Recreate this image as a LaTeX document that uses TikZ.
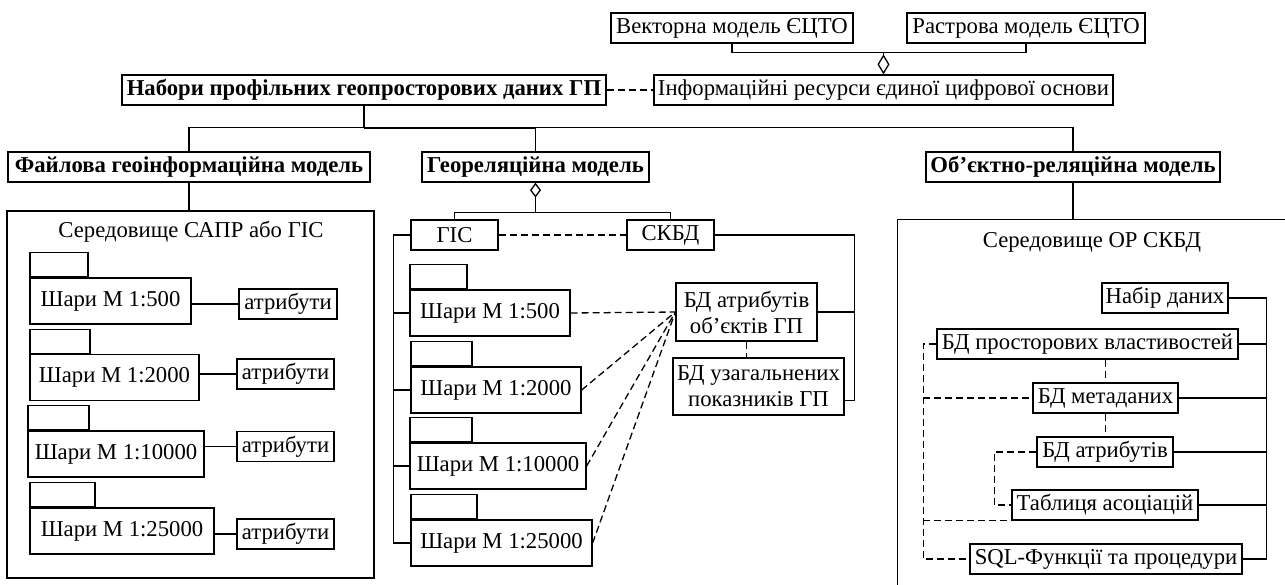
\documentclass[tikz,border=0pt]{standalone}
\usepackage{fontspec}
\setmainfont{Liberation Serif}
\usepackage{tikz}
\usetikzlibrary{positioning, arrows.meta, shapes}
\tikzstyle{unit} = [rectangle, draw=black, line width=1.3pt, inner sep=0pt, minimum height=30pt, text centered]
\tikzstyle{model} = [unit, font=\fontsize{22.7}{26}\selectfont\bfseries]
\tikzstyle{layer} = [unit, minimum height=46pt]
\tikzstyle{tab} = [rectangle, draw=black, line width=1.3pt, minimum height=24pt, inner sep=0pt, anchor=south west]
\tikzstyle{envbox} = [rectangle, draw=black, line width=1.3pt, inner sep=0pt]
\tikzstyle{link} = [line width=1.3pt]
\tikzstyle{dashlink} = [link, dash pattern=on 7pt off 4pt]

\begin{document}
\begin{tikzpicture}[x=1pt, y=-1pt, font=\fontsize{22.7}{26}\selectfont]
        \useasboundingbox (0,0) rectangle (1285,584);

        % top level
        \node (vector) [unit, minimum width=242pt] at (732,28) {Векторна модель ЄЦТО};
        \node (raster) [unit, minimum width=238pt] at (1026,28) {Растрова модель ЄЦТО};
        \node (resources) [unit, minimum width=459pt] at (883.5,90) {Інформаційні ресурси єдиної цифрової основи};
        \node (datasets) [model, minimum width=484pt] at (364,90) {Набори профільних геопросторових даних ГП};
        \node (filemodel) [model, minimum width=362pt] at (189,167) {Файлова геоінформаційна модель};
        \node (georel) [model, minimum width=227pt] at (535.5,167) {Геореляційна модель};
        \node (objrel) [model, minimum width=294pt] at (1073,167) {Об’єктно-реляційна модель};

        \draw [link, {Diamond[open, length=20pt, width=12pt]}-] (resources.north) -- ++(0,-22) -| (vector.south);
        \draw [link] (resources.north) ++(0,-22) -| (raster.south);
        \draw [dashlink] (datasets.east) -- (resources.west);
        \draw [link] (datasets.south) -- ++(0,22) coordinate (split);
        \draw [link] (split) -| (filemodel.north);
        \draw [link] (split) -| (objrel.north);
        \draw [line width=2.2pt] (split) -- (split -| georel.north);
        \draw [link] (split -| georel.north) -- (georel.north);

        % file model
        \node (cadenv) [envbox, minimum width=367pt, minimum height=367pt] at (190.5,394.5) {};
        \node (cadtitle) at (191,232) {Середовище САПР або ГІС};
        \draw [link] (filemodel.south) -- (filemodel.south |- cadenv.north);

        \node (f500) [layer, minimum width=161pt] at (110.5,301) {Шари М 1:500};
        \node [tab, minimum width=58pt] at (f500.north west) {};
        \node (f2000) [layer, minimum width=169pt] at (114.5,377.5) {Шари М 1:2000};
        \node [tab, minimum width=60pt] at (f2000.north west) {};
        \node (f10000) [layer, minimum width=176pt] at (116,454) {Шари М 1:10000};
        \node [tab, minimum width=61pt] at (f10000.north west) {};
        \node (f25000) [layer, minimum width=184pt] at (122,531) {Шари М 1:25000};
        \node [tab, minimum width=65pt] at (f25000.north west) {};

        \node (a500) [unit, minimum width=98pt] at (288,304) {атрибути};
        \node (a2000) [unit, minimum width=97pt] at (285.5,374) {атрибути};
        \node (a10000) [unit, minimum width=97pt] at (285.5,446.5) {атрибути};
        \node (a25000) [unit, minimum width=97pt] at (285.5,534) {атрибути};
        \foreach \s in {500,2000,10000,25000}
            \draw [link] (f\s.east |- a\s.west) -- (a\s.west);

        % georelational model
        \node (gis) [unit, minimum width=87pt] at (454.5,235) {ГІС};
        \node (dbms) [unit, minimum width=87pt] at (670.5,235) {СКБД};
        \draw [link, {Diamond[open, length=15pt, width=11pt]}-] (georel.south) -- ++(0,30) -| (gis.north);
        \draw [link] (georel.south) ++(0,30) -| (dbms.north);
        \draw [dashlink] (gis.east) -- (dbms.west);

        \node (g500) [layer, minimum width=160pt] at (490,313) {Шари М 1:500};
        \node [tab, minimum width=57pt] at (g500.north west) {};
        \node (g2000) [layer, minimum width=170pt] at (496,390) {Шари М 1:2000};
        \node [tab, minimum width=61pt] at (g2000.north west) {};
        \node (g10000) [layer, minimum width=176pt] at (498,466) {Шари М 1:10000};
        \node [tab, minimum width=62pt] at (g10000.north west) {};
        \node (g25000) [layer, minimum width=181pt] at (501.5,543) {Шари М 1:25000};
        \node [tab, minimum width=66pt] at (g25000.north west) {};

        \node (attrdb) [unit, minimum width=141pt, minimum height=58pt, align=center] at (746.5,312) {БД атрибутів\\об’єктів ГП};
        \node (sumdb) [unit, minimum width=171pt, minimum height=57pt, align=center] at (758.5,386.5) {БД узагальнених\\показників ГП};
        \draw [dashlink] (attrdb.south) -- (attrdb.south |- sumdb.north);

        \draw [link] (gis.west) -- ++(-17,0) coordinate (gbus) |- (g25000.west);
        \foreach \s in {500,2000,10000}
            \draw [link] (gbus |- g\s.west) -- (g\s.west);
        \draw [link] (dbms.east) -- ++(140,0) coordinate (dbus) |- ([yshift=-14pt]sumdb.east);
        \draw [link] (dbus |- attrdb.east) -- (attrdb.east);
        \foreach \s in {500,2000,10000,25000}
            \draw [dashlink] (g\s.east) -- (attrdb.west);

        % object-relational model
        \node (orenv) [envbox, minimum width=420pt, minimum height=400pt, anchor=north west] at (897,219) {};
        \node (ortitle) at (1092,242) {Середовище ОР СКБД};
        \draw [link] (objrel.south) -- (objrel.south |- orenv.north);

        \node (dataset) [unit, minimum width=126pt] at (1165,298) {Набір даних};
        \node (spatial) [unit, minimum width=301pt] at (1087.5,344) {БД просторових властивостей};
        \node (metadata) [unit, minimum width=145pt] at (1105.5,398) {БД метаданих};
        \node (attributes) [unit, minimum width=136pt] at (1105,452) {БД атрибутів};
        \node (assoc) [unit, minimum width=186pt] at (1105,505) {Таблиця асоціацій};
        \node (sqlfunc) [unit, minimum width=272pt] at (1106,559) {SQL-Функції та процедури};

        \draw [link] (dataset.east) -- ++(38,0) coordinate (obus) |- (sqlfunc.east);
        \foreach \n in {spatial, metadata, attributes, assoc}
            \draw [link] (obus |- \n.east) -- (\n.east);
        \draw [dashlink] (metadata.north |- spatial.south) -- (metadata.north);
        \draw [dashlink] (metadata.south) -- (metadata.south |- attributes.north);
        \draw [dashlink] (spatial.west) -- ++(-13,0) coordinate (oloop) |- (sqlfunc.west);
        \draw [dashlink] (oloop |- metadata.west) -- (metadata.west);
        \draw [dashlink] (oloop |- assoc.south) -- (assoc.south west);
        \draw [dashlink] (attributes.west) -- ++(-42,0) |- (assoc.west);

\end{tikzpicture}
\end{document}
